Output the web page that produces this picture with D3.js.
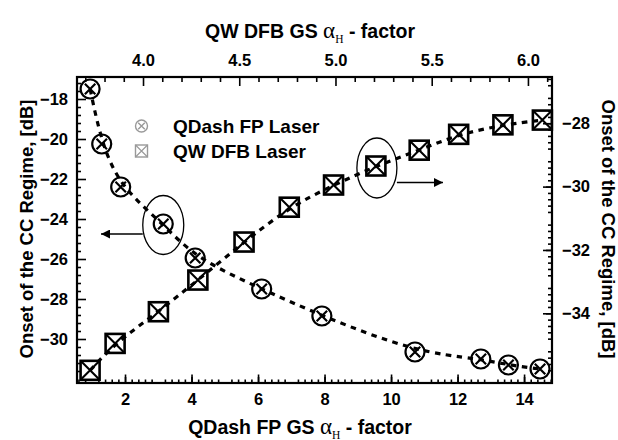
<!DOCTYPE html>
<html>
<head>
<meta charset="utf-8">
<script src="https://cdn.jsdelivr.net/npm/d3@7"></script>
<style>
  body { margin: 0; background: #fff; }
  svg { display: block; font-family: "Liberation Sans", Arial, sans-serif; font-weight: bold; }
  .axis path { display: none; }
  .axis line { stroke: #000; stroke-width: 1.6; }
  .axis text { font-size: 16.5px; font-weight: bold; fill: #000; font-family: "Liberation Sans", Arial, sans-serif; }
</style>
</head>
<body>
<svg width="618" height="440"></svg>
<script>
// QDash FP laser: bottom axis (alpha_H) vs left axis (onset, dB)
const qdashAlpha = [0.95, 1.30, 1.87, 3.15, 4.11, 6.11, 7.92, 10.72, 12.70, 13.53, 14.48];
const qdashOnset = [-17.5, -20.25, -22.4, -24.25, -25.95, -27.5, -28.85, -30.65, -31.0, -31.3, -31.5];

// QW DFB laser: top axis (alpha_H) vs right axis (onset, dB)
const qwAlpha = [3.725, 3.855, 4.08, 4.285, 4.525, 4.76, 4.99, 5.21, 5.435, 5.64, 5.87, 6.075];
const qwOnset = [-35.8, -34.95, -33.95, -32.95, -31.75, -30.65, -29.95, -29.35, -28.85, -28.35, -28.05, -27.9];

const bottomTicks = [2, 4, 6, 8, 10, 12, 14];
const topTicks = [4.0, 4.5, 5.0, 5.5, 6.0];
const leftTicks = [-18, -20, -22, -24, -26, -28, -30];
const rightTicks = [-28, -30, -32, -34];

const legendLabels = ['QDash FP Laser', 'QW DFB Laser'];

const frame = { left: 77, right: 552, top: 77, bottom: 383 };
const svg = d3.select('svg');

// ---------- scales ----------
const xBottom = d3.scaleLinear().domain([0.556, 14.84]).range([frame.left, frame.right]);
const xTop = d3.scaleLinear().domain([3.657, 6.125]).range([frame.left, frame.right]);
const yLeft = d3.scaleLinear().domain([-32.2, -16.9]).range([frame.bottom, frame.top]);
const yRight = d3.scaleLinear().domain([-36.2, -26.54]).range([frame.bottom, frame.top]);

// minor tick helper
const steps = (lo, hi, st) => d3.range(Math.ceil(lo / st - 1e-6), Math.floor(hi / st + 1e-6) + 1).map(i => +(i * st).toFixed(4));

function addAxis(gen, tx, ty) {
  svg.append('g').attr('class', 'axis').attr('transform', `translate(${tx},${ty})`).call(gen);
}

// ---------- bottom axis ----------
const bMinor = steps(0.6, 14.8, 0.2).filter(v => Math.abs(v - Math.round(v)) > 1e-6);
const bOdd = steps(1, 14.8, 2);
addAxis(d3.axisBottom(xBottom).tickValues(bMinor).tickSize(-3.5).tickFormat(''), 0, frame.bottom);
addAxis(d3.axisBottom(xBottom).tickValues(bOdd).tickSize(-6).tickFormat(''), 0, frame.bottom);
addAxis(d3.axisBottom(xBottom).tickValues(bottomTicks).tickSize(-8.5).tickPadding(10).tickFormat(d3.format('d')), 0, frame.bottom);

// ---------- top axis ----------
const tMinor = steps(3.7, 6.1, 0.1).filter(v => Math.abs(v * 2 - Math.round(v * 2)) > 1e-6);
addAxis(d3.axisTop(xTop).tickValues(tMinor).tickSize(-5).tickFormat(''), 0, frame.top);
addAxis(d3.axisTop(xTop).tickValues(topTicks).tickSize(-9).tickPadding(11).tickFormat(d3.format('.1f')), 0, frame.top);

// ---------- left axis ----------
const lMinor = steps(-32.0, -17.2, 0.4).filter(v => Math.abs(v / 2 - Math.round(v / 2)) > 1e-6);
addAxis(d3.axisLeft(yLeft).tickValues(lMinor).tickSize(-4).tickFormat(''), frame.left, 0);
addAxis(d3.axisLeft(yLeft).tickValues(leftTicks).tickSize(-9).tickPadding(9).tickFormat(d3.format('d')), frame.left, 0);

// ---------- right axis ----------
const rMinor = steps(-36.0, -26.6, 0.2).filter(v => Math.abs(v - Math.round(v)) > 1e-6);
const rOdd = steps(-35, -27, 2);
addAxis(d3.axisRight(yRight).tickValues(rMinor).tickSize(-4).tickFormat(''), frame.right, 0);
addAxis(d3.axisRight(yRight).tickValues(rOdd).tickSize(-6).tickFormat(''), frame.right, 0);
addAxis(d3.axisRight(yRight).tickValues(rightTicks).tickSize(-9).tickPadding(10).tickFormat(d3.format('d')), frame.right, 0);

// ---------- frame ----------
svg.append('rect')
  .attr('x', frame.left).attr('y', frame.top)
  .attr('width', frame.right - frame.left).attr('height', frame.bottom - frame.top)
  .attr('fill', 'none').attr('stroke', '#000').attr('stroke-width', 2.2);

// ---------- dashed trend lines ----------
const qdash = qdashAlpha.map((a, i) => [a, qdashOnset[i]]);
const qw = qwAlpha.map((a, i) => [a, qwOnset[i]]);

const dashed = (sel) => sel.attr('fill', 'none').attr('stroke', '#000')
  .attr('stroke-width', 3.2).attr('stroke-dasharray', '5.5,5.5');

svg.append('path').datum(qdash)
  .attr('d', d3.line().x(d => xBottom(d[0])).y(d => yLeft(d[1])).curve(d3.curveBasis))
  .call(dashed);
svg.append('path').datum(qw)
  .attr('d', d3.line().x(d => xTop(d[0])).y(d => yRight(d[1])).curve(d3.curveBasis))
  .call(dashed);

// ---------- markers ----------
function circleX(g, cx, cy, r, color, sw) {
  const k = r * 0.55;
  g.append('circle').attr('cx', cx).attr('cy', cy).attr('r', r)
    .attr('fill', 'none').attr('stroke', color).attr('stroke-width', sw);
  g.append('path').attr('d', `M${cx - k},${cy - k}L${cx + k},${cy + k}M${cx + k},${cy - k}L${cx - k},${cy + k}`)
    .attr('stroke', color).attr('stroke-width', sw);
}
function squareX(g, cx, cy, h, color, sw) {
  g.append('rect').attr('x', cx - h).attr('y', cy - h).attr('width', 2 * h).attr('height', 2 * h)
    .attr('fill', 'none').attr('stroke', color).attr('stroke-width', sw);
  g.append('path').attr('d', `M${cx - h},${cy - h}L${cx + h},${cy + h}M${cx + h},${cy - h}L${cx - h},${cy + h}`)
    .attr('stroke', color).attr('stroke-width', sw * 0.8);
}

const markers = svg.append('g');
qdash.forEach(d => circleX(markers, xBottom(d[0]), yLeft(d[1]), 9.5, '#000', 2.2));
qw.forEach(d => squareX(markers, xTop(d[0]), yRight(d[1]), 9.5, '#000', 2.6));

// ---------- legend ----------
const legend = svg.append('g');
circleX(legend, 141.5, 126, 6, '#999', 1.4);
squareX(legend, 141.5, 151, 6, '#999', 1.4);
legend.selectAll('text').data(legendLabels).enter().append('text')
  .attr('x', 173).attr('y', (d, i) => 132.5 + i * 25)
  .attr('font-size', 19).text(d => d);

// ---------- ellipses and arrows ----------
svg.append('defs').append('marker')
  .attr('id', 'arrow').attr('viewBox', '0 0 10 10').attr('refX', 10).attr('refY', 5)
  .attr('markerWidth', 9).attr('markerHeight', 9).attr('markerUnits', 'userSpaceOnUse')
  .attr('orient', 'auto')
  .append('path').attr('d', 'M0,0L10,5L0,10Z').attr('fill', '#000');

const leftPt = qdash[3];
const lcx = xBottom(leftPt[0]), lcy = yLeft(leftPt[1]);
svg.append('ellipse').attr('cx', lcx).attr('cy', lcy + 1).attr('rx', 20.5).attr('ry', 29.5)
  .attr('fill', 'none').attr('stroke', '#000').attr('stroke-width', 1.3);
svg.append('line').attr('x1', lcx - 20.5).attr('y1', lcy + 10).attr('x2', 101).attr('y2', lcy + 10)
  .attr('stroke', '#000').attr('stroke-width', 1.3).attr('marker-end', 'url(#arrow)');

const rightPt = qw[7];
const rcx = xTop(rightPt[0]), rcy = yRight(rightPt[1]);
svg.append('ellipse').attr('cx', rcx + 1).attr('cy', rcy + 2).attr('rx', 20).attr('ry', 30)
  .attr('fill', 'none').attr('stroke', '#000').attr('stroke-width', 1.3);
svg.append('line').attr('x1', rcx + 21).attr('y1', rcy + 16.5).attr('x2', 443).attr('y2', rcy + 16.5)
  .attr('stroke', '#000').attr('stroke-width', 1.3).attr('marker-end', 'url(#arrow)');

// ---------- axis titles ----------
function alphaTitle(x, y, label) {
  const t = svg.append('text').attr('x', x).attr('y', y).attr('text-anchor', 'middle').attr('font-size', 19.5);
  t.append('tspan').text(label + ' ');
  t.append('tspan').attr('font-family', '"Liberation Serif", serif').attr('font-weight', 'normal').attr('font-size', 23).text('α');
  t.append('tspan').attr('font-family', '"Liberation Serif", serif').attr('font-weight', 'normal').attr('font-size', 11.5).attr('dy', 5).text('H');
  t.append('tspan').attr('dy', -5).text(' - factor');
  return t;
}
alphaTitle(310, 38, 'QW DFB GS');
alphaTitle(300, 434, 'QDash FP GS');

svg.append('text').attr('transform', 'translate(33,229) rotate(-90)')
  .attr('text-anchor', 'middle').attr('font-size', 18.5).text('Onset of the CC Regime, [dB]');
svg.append('text').attr('transform', 'translate(602,229) rotate(90)')
  .attr('text-anchor', 'middle').attr('font-size', 18.5).text('Onset of the CC Regime, [dB]');
</script>
</body>
</html>
